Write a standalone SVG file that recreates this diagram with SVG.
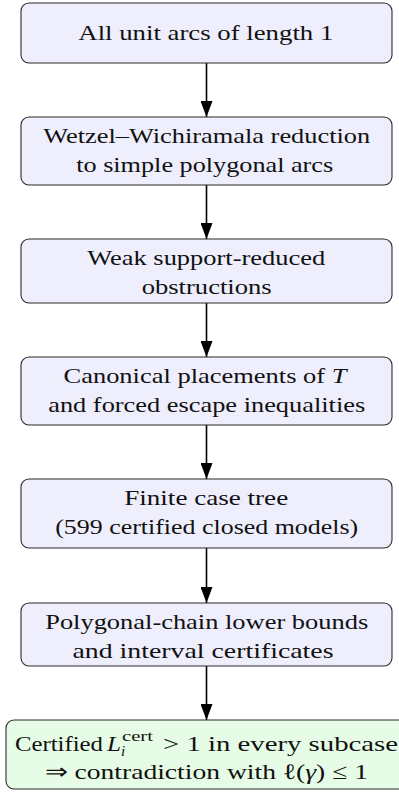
<svg xmlns="http://www.w3.org/2000/svg" width="399" height="792" viewBox="0 0 399 792">
<style>
  .box { fill: #eeeefd; stroke: #2a2a2a; stroke-width: 1.1; }
  .ok { fill: #e6fce6; stroke: #2a2a2a; stroke-width: 1.1; }
  .c { text-anchor: middle; }
  .it { font-style: italic; }
  .edge { stroke: #000; stroke-width: 1.6; fill: none; marker-end: url(#ah); }
</style>
<defs>
  <marker id="ah" markerUnits="userSpaceOnUse" markerWidth="16" markerHeight="12" refX="16" refY="6" orient="auto">
    <path d="M0,0 L16,6 L0,12 z" fill="#000"/>
  </marker>
</defs>

<g id="connectors">
  <line class="edge" x1="206.5" y1="63" x2="206.5" y2="117"/>
  <line class="edge" x1="206.5" y1="185" x2="206.5" y2="239"/>
  <line class="edge" x1="206.5" y1="303" x2="206.5" y2="357"/>
  <line class="edge" x1="206.5" y1="425" x2="206.5" y2="479"/>
  <line class="edge" x1="206.5" y1="548" x2="206.5" y2="603"/>
  <line class="edge" x1="206.5" y1="666" x2="206.5" y2="720"/>
</g>

<g id="n1" font-family="Liberation Serif" font-size="22" fill="#111">
  <rect class="box" x="21" y="3" width="371" height="60" rx="8"/>
  <text class="c" x="205.8" y="39.5" textLength="255" lengthAdjust="spacingAndGlyphs">All unit arcs of length 1</text>
</g>

<g id="n2" font-family="Liberation Serif" font-size="22" fill="#111">
  <rect class="box" x="21" y="117" width="371" height="68" rx="8"/>
  <text class="c" x="206.7" y="143" textLength="327" lengthAdjust="spacingAndGlyphs">Wetzel–Wichiramala reduction</text>
  <text class="c" x="204.7" y="172" textLength="257" lengthAdjust="spacingAndGlyphs">to simple polygonal arcs</text>
</g>

<g id="n3" font-family="Liberation Serif" font-size="22" fill="#111">
  <rect class="box" x="21" y="239" width="371" height="64" rx="8"/>
  <text class="c" x="206.2" y="265" textLength="238" lengthAdjust="spacingAndGlyphs">Weak support-reduced</text>
  <text class="c" x="206.7" y="294" textLength="130" lengthAdjust="spacingAndGlyphs">obstructions</text>
</g>

<g id="n4" font-family="Liberation Serif" font-size="22" fill="#111">
  <rect class="box" x="21" y="357" width="371" height="68" rx="8"/>
  <text class="c" x="205" y="383" textLength="283" lengthAdjust="spacingAndGlyphs">Canonical placements of <tspan class="it">T</tspan></text>
  <text class="c" x="206.7" y="412" textLength="317" lengthAdjust="spacingAndGlyphs">and forced escape inequalities</text>
</g>

<g id="n5" font-family="Liberation Serif" font-size="22" fill="#111">
  <rect class="box" x="21" y="479" width="371" height="69" rx="8"/>
  <text class="c" x="206.2" y="505" textLength="164" lengthAdjust="spacingAndGlyphs">Finite case tree</text>
  <text class="c" x="206.7" y="534" textLength="303" lengthAdjust="spacingAndGlyphs">(599 certified closed models)</text>
</g>

<g id="n6" font-family="Liberation Serif" font-size="22" fill="#111">
  <rect class="box" x="21" y="603" width="371" height="63" rx="8"/>
  <text class="c" x="206.7" y="629" textLength="323" lengthAdjust="spacingAndGlyphs">Polygonal-chain lower bounds</text>
  <text class="c" x="203" y="658" textLength="261" lengthAdjust="spacingAndGlyphs">and interval certificates</text>
</g>

<g id="n7" font-family="Liberation Serif" font-size="22" fill="#111">
  <rect class="ok" x="6" y="720" width="401" height="69" rx="8"/>
  <text x="15" y="751" textLength="88" lengthAdjust="spacingAndGlyphs">Certified</text>
  <text class="it" x="107" y="751" textLength="14" lengthAdjust="spacingAndGlyphs">L</text>
  <text font-size="15" x="122" y="741" textLength="31" lengthAdjust="spacingAndGlyphs">cert</text>
  <text class="it" font-size="15" x="121" y="756">i</text>
  <text x="163" y="751" textLength="235" lengthAdjust="spacingAndGlyphs">&gt; 1 in every subcase</text>
  <text class="c" x="206.5" y="779" textLength="323" lengthAdjust="spacingAndGlyphs">⇒ contradiction with ℓ(<tspan class="it">γ</tspan>) ≤ 1</text>
</g>
</svg>
